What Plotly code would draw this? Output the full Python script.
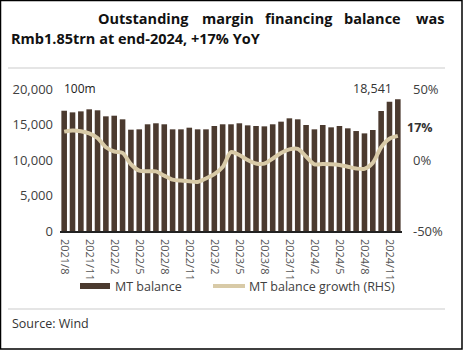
import plotly.graph_objects as go

W, H = 463, 350
L, R, T, B = 60, 61, 89, 119  # plot area pixels: x 60..402, y 89..231

months = []
y, m = 2021, 8
for _ in range(41):
    months.append(f"{y}/{m}")
    m += 1
    if m > 12:
        m = 1
        y += 1

balance = [16940, 16710, 16850, 17140, 17000, 16150, 16240, 15730, 14270, 14320,
           15030, 15170, 15030, 14320, 14320, 14550, 14320, 14320, 14790, 15030,
           15030, 15170, 14880, 14790, 14740, 15030, 15400, 15870, 15730, 14930,
           14320, 14930, 14600, 14790, 14460, 14080, 13750, 14230, 16900, 18210,
           18541]
growth = [20, 20.8, 20.3, 18.8, 15.5, 9, 6, 5, -3, -7.5,
          -8, -8, -11, -13.8, -14.5, -15, -15.5, -13, -10, -5,
          5.5, 3.5, 0, -2.5, -2.6, 1, 5, 7.5, 7.8, 2.5,
          -3, -2.8, -3, -3.5, -4.7, -6, -6.2, -2, 9, 15,
          17]
tick_labels = months[::3]

left_ticks = [0, 5000, 10000, 15000, 20000]
left_text = ["0", "5,000", "10,000", "15,000", "20,000"]
right_ticks = [-50, 0, 50]
right_text = ["-50%", "0%", "50%"]

BAR = "#4b3a2f"
LINE = "#d8caa7"
FONT = "Open Sans, Arial, sans-serif"

pw, ph = W - L - R, H - T - B
def px(x):
    return (x - L) / pw
def py(yy):
    return (H - B - yy) / ph

fig = go.Figure()
fig.add_trace(go.Bar(x=months, y=balance, marker_color=BAR, marker_line_width=0,
                     name="MT balance", showlegend=False))
fig.add_trace(go.Scatter(x=months, y=growth, yaxis="y2", mode="lines",
                         line=dict(color=LINE, width=4, shape="spline", smoothing=0.8),
                         name="MT balance growth (RHS)", showlegend=False))

fig.update_layout(
    width=W, height=H,
    margin=dict(l=L, r=R, t=T, b=B, pad=0),
    paper_bgcolor="white", plot_bgcolor="white",
    bargap=0.33,
    font=dict(family=FONT, size=12, color="#404040"),
    xaxis=dict(type="category", tickmode="array", tickvals=tick_labels, ticktext=tick_labels,
               tickangle=90, tickfont=dict(size=11, color="#555555"),
               showline=True, linecolor="#222222", linewidth=1.5, ticks="",
               showgrid=False, ticklabelstandoff=4),
    yaxis=dict(range=[0, 20000], tickmode="array", tickvals=left_ticks, ticktext=left_text,
               showgrid=False, zeroline=False, ticks="",
               tickfont=dict(size=13, color="#404040"), ticklabelstandoff=6),
    yaxis2=dict(range=[-50, 50], overlaying="y", side="right", tickmode="array",
                tickvals=right_ticks, ticktext=right_text,
                showgrid=False, zeroline=False, ticks="",
                tickfont=dict(size=13, color="#404040"), ticklabelstandoff=10),
)

ann = []
# title (justified first line)
words = [("Outstanding", 97, "left"), ("margin", 201, "left"), ("financing", 264, "left"),
         ("balance", 343, "left"), ("was", 445, "right")]
for w, x0, anc in words:
    ann.append(dict(text=f"<b>{w}</b>", x=px(x0), y=py(18.5), xanchor=anc, yanchor="middle"))
ann.append(dict(text="<b>Rmb1.85trn at end-2024, +17% YoY</b>", x=px(10), y=py(38.5),
                xanchor="left", yanchor="middle"))
for a in ann:
    a.update(xref="paper", yref="paper", showarrow=False, borderpad=0,
             font=dict(family=FONT, size=14.5, color="#111111"))

small = [
    dict(text="100m", x=px(62), y=py(88), xanchor="left", size=12, color="#222222"),
    dict(text="18,541", x=px(372), y=py(88), xanchor="center", size=12.5, color="#333333"),
    dict(text="<b>17%</b>", x=px(405), y=py(127), xanchor="left", size=12.5, color="#333333"),
    dict(text="MT balance", x=px(113), y=py(286), xanchor="left", size=12.5, color="#404040"),
    dict(text="MT balance growth (RHS)", x=px(247), y=py(286), xanchor="left", size=12.5, color="#404040"),
    dict(text="Source: Wind", x=px(10), y=py(323), xanchor="left", size=12.5, color="#333333"),
]
for s in small:
    ann.append(dict(text=s["text"], x=s["x"], y=s["y"], xanchor=s["xanchor"], yanchor="middle",
                    xref="paper", yref="paper", showarrow=False,
                    font=dict(family=FONT, size=s["size"], color=s["color"])))
fig.update_layout(annotations=ann)

shapes = [
    # outer border
    dict(type="rect", x0=px(0.5), x1=px(462), y0=py(0.5), y1=py(349), line=dict(color="#000000", width=1.5)),
    # separator lines
    dict(type="line", x0=px(8), x1=px(445), y0=py(68), y1=py(68), line=dict(color="#dddddd", width=1.5)),
    dict(type="line", x0=px(8), x1=px(445), y0=py(309), y1=py(309), line=dict(color="#dddddd", width=1.5)),
    # legend swatches
    dict(type="rect", x0=px(80), x1=px(110), y0=py(283), y1=py(289), line=dict(width=0), fillcolor=BAR),
    dict(type="line", x0=px(213), x1=px(245), y0=py(286), y1=py(286), line=dict(color=LINE, width=4)),
]
for s in shapes:
    s.update(xref="paper", yref="paper")
fig.update_layout(shapes=shapes)

fig.write_html("out.html")
